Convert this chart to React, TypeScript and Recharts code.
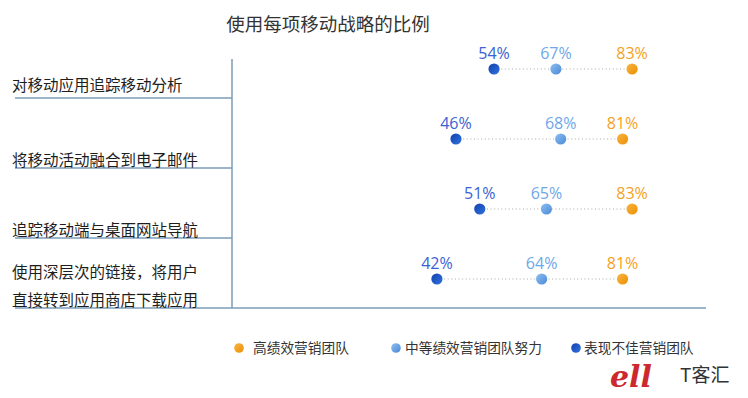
import React from 'react';
import { ComposedChart, Bar, Line, XAxis, YAxis, LabelList } from 'recharts';

const categories = [
  '对移动应用追踪移动分析',
  '将移动活动融合到电子邮件',
  '追踪移动端与桌面网站导航',
  '使用深层次的链接，将用户\n直接转到应用商店下载应用',
];
const highTeam = [83, 81, 83, 81];
const midTeam = [67, 68, 65, 64];
const lowTeam = [54, 46, 51, 42];
const seriesNames = ['高绩效营销团队', '中等绩效营销团队努力', '表现不佳营销团队'];
const chartTitle = '使用每项移动战略的比例';

const AXIS = '#7d9cb8';
const CJK = '"Noto Sans CJK SC", "Noto Sans", sans-serif';

const series = [
  { key: 'high', name: seriesNames[0], c1: '#f8b544', c2: '#ec8f00', label: '#f4a11c' },
  { key: 'mid', name: seriesNames[1], c1: '#8cbff2', c2: '#4a89d6', label: '#6ea7ea' },
  { key: 'low', name: seriesNames[2], c1: '#0f42b0', c2: '#3272dc', label: '#3a62d4' },
];

const data = categories.map((name, i) => ({
  name,
  high: highTeam[i],
  mid: midTeam[i],
  low: lowTeam[i],
  range: [lowTeam[i], highTeam[i]],
}));

const CategoryTick = (props: any) => {
  const { y, payload } = props;
  const idx = categories.indexOf(payload.value);
  const lines = String(payload.value).split('\n');
  const last = idx === categories.length - 1;
  const lineY = y + 29;
  const base = idx === 0 ? y + 22 : y + 27;
  return (
    <g>
      <line x1={15} x2={last ? 706 : 232} y1={lineY} y2={lineY} stroke={AXIS} strokeWidth={1.5} />
      <line x1={232} x2={232} y1={idx === 0 ? y - 10 : y - 41} y2={lineY} stroke={AXIS} strokeWidth={1.5} />
      <text x={12} y={base - (lines.length - 1) * 28} fontSize={15.5} fill="#1e1e1e" fontFamily={CJK} textAnchor="start">
        {lines.map((l, i) => (
          <tspan key={i} x={12} dy={i === 0 ? 0 : 28}>
            {l}
          </tspan>
        ))}
      </text>
    </g>
  );
};

const Connector = (props: any) => {
  const { x, y, width, height } = props;
  if (x == null || width == null) return null;
  const cy = y + height / 2;
  return (
    <line x1={x} x2={x + width} y1={cy} y2={cy} stroke="#a8a8a8" strokeWidth={1.1} strokeDasharray="1 2.6" />
  );
};

const makeDot = (s: any) => (props: any) => {
  const { cx, cy, index } = props;
  const gid = `grad-${s.key}-${index}`;
  return (
    <g key={gid}>
      <defs>
        <linearGradient id={gid} x1="0" y1="0" x2="1" y2="1">
          <stop offset="0%" stopColor={s.c1} />
          <stop offset="100%" stopColor={s.c2} />
        </linearGradient>
      </defs>
      <circle cx={cx} cy={cy} r={5.6} fill={`url(#${gid})`} />
    </g>
  );
};

const legendDotX = [239, 396, 576];
const legendTextX = [253, 405, 584];

export default function App() {
  return (
    <div style={{ position: 'absolute', left: 0, top: 0, width: 748, height: 398, background: '#fff' }}>
      <ComposedChart
        width={748}
        height={398}
        data={data}
        layout="vertical"
        margin={{ top: 34, right: 35, bottom: 84, left: 0 }}
      >
        <XAxis type="number" domain={[0, 100]} hide />
        <YAxis
          type="category"
          dataKey="name"
          width={237}
          axisLine={false}
          tickLine={false}
          tick={<CategoryTick />}
          interval={0}
        />
        <Bar dataKey="range" shape={<Connector />} isAnimationActive={false} legendType="none" />
        {series.map((s) => (
          <Line
            key={s.key}
            dataKey={s.key}
            name={s.name}
            stroke="none"
            dot={makeDot(s)}
            activeDot={false}
            isAnimationActive={false}
          >
            <LabelList
              dataKey={s.key}
              position="top"
              offset={10}
              fill={s.label}
              fontSize={16}
              fontFamily='"Open Sans", "Noto Sans", sans-serif'
              formatter={(v: any) => `${v}%`}
            />
          </Line>
        ))}
      </ComposedChart>
      <svg width={748} height={398} style={{ position: 'absolute', left: 0, top: 0, pointerEvents: 'none' }}>
        <defs>
          {series.map((s) => (
            <linearGradient key={s.key} id={`lg-${s.key}`} x1="0" y1="0" x2="1" y2="1">
              <stop offset="0%" stopColor={s.c1} />
              <stop offset="100%" stopColor={s.c2} />
            </linearGradient>
          ))}
        </defs>
        <text x={328} y={31} textAnchor="middle" fontSize={18.5} fill="#333" fontFamily={CJK}>
          {chartTitle}
        </text>
        {series.map((s, i) => (
          <g key={s.key}>
            <circle cx={legendDotX[i]} cy={348} r={4.8} fill={`url(#lg-${s.key})`} />
            <text x={legendTextX[i]} y={353} fontSize={13.7} fill="#333" fontFamily={CJK}>
              {s.name}
            </text>
          </g>
        ))}
        <text x={610} y={387} fontSize={30} fontStyle="italic" fontWeight="bold" fill="#c8161d" fontFamily='"DejaVu Serif", serif' opacity={0.92}>
          ell
        </text>
        <text x={680} y={382} fontSize={19} fill="#333" fontFamily={CJK}>
          T客汇
        </text>
      </svg>
    </div>
  );
}
